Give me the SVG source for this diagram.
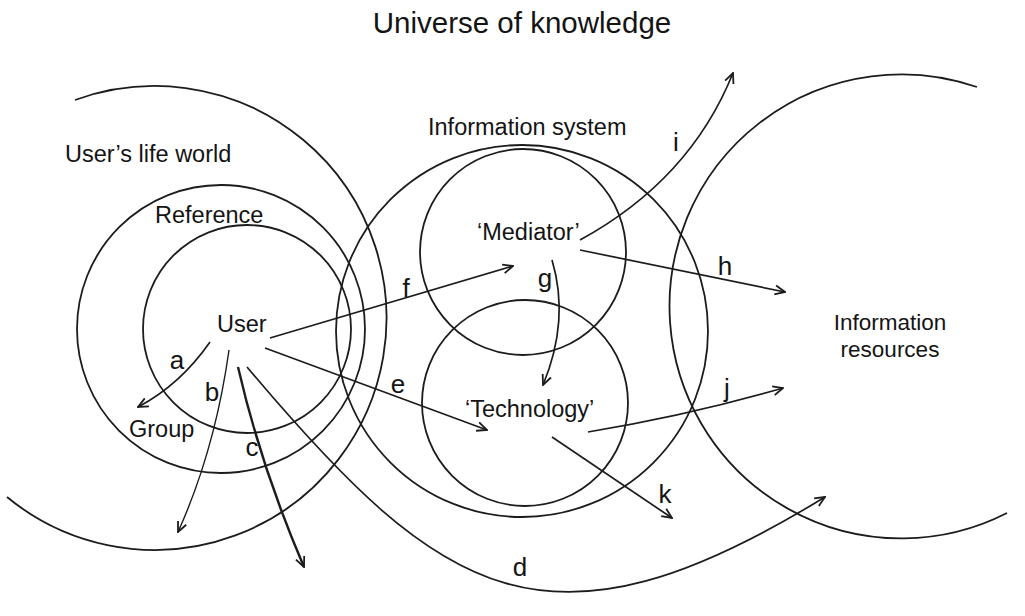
<svg xmlns="http://www.w3.org/2000/svg" width="1025" height="616" viewBox="0 0 1025 616">
<style>
  .ring { fill: none; stroke: #1c1c1c; stroke-width: 1.8; }
  .lbl { font-family: "Liberation Sans", Arial, sans-serif; font-size: 23.5px; fill: #141414; }
  .res { font-family: "Liberation Sans", Arial, sans-serif; font-size: 22.5px; fill: #141414; text-anchor: middle; }
  .ttl { font-family: "Liberation Sans", Arial, sans-serif; font-size: 29.5px; fill: #141414; }
  .let { font-family: "Liberation Sans", Arial, sans-serif; font-size: 26px; fill: #141414; text-anchor: middle; }
  .con { fill: none; stroke: #1c1c1c; stroke-width: 1.7; marker-end: url(#ah); }
</style>
<defs>
  <marker id="ah" viewBox="0 0 12 12" refX="11" refY="6" markerWidth="12" markerHeight="12" markerUnits="userSpaceOnUse" orient="auto">
    <path d="M1,1.5 L11,6 L1,10.5" fill="none" stroke="#1c1c1c" stroke-width="1.8"/>
  </marker>
</defs>
<rect width="1025" height="616" fill="#ffffff"/>

<g id="title">
  <text class="ttl" x="522" y="33" text-anchor="middle">Universe of knowledge</text>
</g>

<g id="life-world">
  <path class="ring" d="M75,100 A232,232 0 1 1 7,497"/>
  <text class="lbl" x="65" y="162">User’s life world</text>
</g>

<g id="reference">
  <circle class="ring" cx="221" cy="329" r="144"/>
  <text class="lbl" x="155" y="223">Reference</text>
</g>

<g id="user">
  <circle class="ring" cx="247" cy="329" r="104"/>
  <text class="lbl" x="217" y="332">User</text>
</g>

<g id="group">
  <text class="lbl" x="129" y="437">Group</text>
</g>

<g id="information-system">
  <circle class="ring" cx="522" cy="331" r="186"/>
  <text class="lbl" x="428" y="135">Information system</text>
</g>

<g id="mediator">
  <circle class="ring" cx="523" cy="252" r="103"/>
  <text class="lbl" x="477" y="240">‘Mediator’</text>
</g>

<g id="technology">
  <circle class="ring" cx="525" cy="403" r="103"/>
  <text class="lbl" x="465" y="417">‘Technology’</text>
</g>

<g id="information-resources">
  <path class="ring" d="M977,87 A232,232 0 1 0 1007,513"/>
  <text class="res" x="890" y="330">Information</text>
  <text class="res" x="890" y="357">resources</text>
</g>

<g id="connectors">
  <path class="con" d="M210,342 Q180,385 138,407"/>
  <path class="con" style="stroke-width:1.4" d="M229,350 Q215,450 178,532"/>
  <path class="con" style="stroke-width:2.4" d="M238,367 Q261,467 304,567"/>
  <path class="con" d="M247,367 C443,600 547.5,667 825,497"/>
  <path class="con" d="M265,348 L487,430"/>
  <path class="con" d="M270,338 L513,266"/>
  <path class="con" d="M552,260 Q570,320 543,385"/>
  <path class="con" d="M580,250 L785,292"/>
  <path class="con" d="M580,240 Q690,180 733,73"/>
  <path class="con" d="M588,432 Q690,415 783,388"/>
  <path class="con" d="M552,437 L672,518"/>
  <text class="let" x="177" y="369">a</text>
  <text class="let" x="212" y="401">b</text>
  <text class="let" x="252" y="456">c</text>
  <text class="let" x="520" y="576">d</text>
  <text class="let" x="398" y="393">e</text>
  <text class="let" x="406" y="297">f</text>
  <text class="let" x="545" y="287">g</text>
  <text class="let" x="725" y="275">h</text>
  <text class="let" x="676" y="151">i</text>
  <text class="let" x="727" y="397">j</text>
  <text class="let" x="665" y="503">k</text>
</g>
</svg>
